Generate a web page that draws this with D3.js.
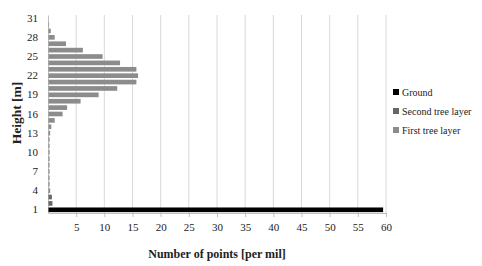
<!DOCTYPE html>
<html>
<head>
<meta charset="utf-8">
<script src="https://cdn.jsdelivr.net/npm/d3@7"></script>
<style>
body { margin: 0; background: #fff; }
text { font-family: "Liberation Serif", "Times New Roman", serif; fill: #222; }
</style>
</head>
<body>
<svg id="chart" width="482" height="266"></svg>
<script>
// heights 1..31 m
var heights = d3.range(1, 32);
var ground = [59.4];                       // height 1
var secondLayer = [0.7, 0.6];              // heights 2-3
var firstLayer = [0.3, 0.2, 0.2, 0.2, 0.2, 0.2, 0.2, 0.2, 0.2, 0.3, 0.5, 1.1, 2.5, 3.3, 5.7, 8.9, 12.2,
                  15.6, 15.9, 15.6, 12.7, 9.6, 6.1, 3.1, 1.1, 0.4, 0.1]; // heights 4-31
var yTicks = [1, 4, 7, 10, 13, 16, 19, 22, 25, 28, 31];
var xTicks = [5, 10, 15, 20, 25, 30, 35, 40, 45, 50, 55, 60];
var legendNames = ["Ground", "Second tree layer", "First tree layer"];
var colors = ["#000000", "#666666", "#8c8c8c"];

var rows = [];
heights.forEach(function(h, i) {
  var v, s;
  if (i < 1) { v = ground[i]; s = 0; }
  else if (i < 3) { v = secondLayer[i - 1]; s = 1; }
  else { v = firstLayer[i - 3]; s = 2; }
  rows.push({h: h, v: v, s: s});
});

var svg = d3.select("#chart");
var pLeft = 48, pRight = 386, pTop = 15, pBottom = 213;

var x = d3.scaleLinear().domain([0, 60]).range([pLeft, pRight]);
var y = d3.scaleBand().domain(heights).range([pBottom, pTop]).paddingInner(0.27).paddingOuter(0.135);

// vertical gridlines
svg.append("g").selectAll("line").data(xTicks).enter().append("line")
  .attr("x1", d => x(d)).attr("x2", d => x(d))
  .attr("y1", pTop).attr("y2", pBottom)
  .attr("stroke", "#d9d9d9").attr("stroke-width", 1);

// x axis
var gx = svg.append("g")
  .attr("transform", "translate(0," + pBottom + ")")
  .call(d3.axisBottom(x).tickValues(xTicks).tickSize(4).tickSizeOuter(0).tickPadding(6));
gx.select(".domain").attr("stroke", "#bfbfbf");
gx.selectAll(".tick line").attr("stroke", "#bfbfbf");
gx.selectAll("text").attr("font-size", "11px").attr("fill", "#333").style("font-family", "Liberation Serif");

// y axis
var gy = svg.append("g")
  .attr("transform", "translate(" + pLeft + ",0)")
  .call(d3.axisLeft(y).tickValues(yTicks).tickSize(0).tickPadding(10));
gy.select(".domain").attr("stroke", "#bfbfbf");
gy.selectAll("text").attr("font-size", "11px").attr("fill", "#333").style("font-family", "Liberation Serif");

// bars
svg.append("g").selectAll("rect").data(rows).enter().append("rect")
  .attr("x", x(0) + 0.5)
  .attr("y", d => y(d.h))
  .attr("width", d => Math.max(0.6, x(d.v) - x(0)))
  .attr("height", y.bandwidth())
  .attr("fill", d => colors[d.s]);

// axis titles
svg.append("text")
  .attr("x", 217).attr("y", 258)
  .attr("text-anchor", "middle")
  .attr("font-size", "12px").attr("font-weight", "bold")
  .text("Number of points [per mil]");

svg.append("text")
  .attr("transform", "translate(21,113) rotate(-90)")
  .attr("text-anchor", "middle")
  .attr("font-size", "13.5px").attr("font-weight", "bold")
  .text("Height [m]");

// legend
var lg = svg.append("g").attr("transform", "translate(393,92)");
legendNames.forEach(function(name, i) {
  lg.append("rect").attr("x", 0).attr("y", i * 19 - 3).attr("width", 6).attr("height", 6).attr("fill", colors[i]);
  lg.append("text").attr("x", 9).attr("y", i * 19 + 4).attr("font-size", "10px").attr("fill", "#333").text(name);
});
</script>
</body>
</html>
